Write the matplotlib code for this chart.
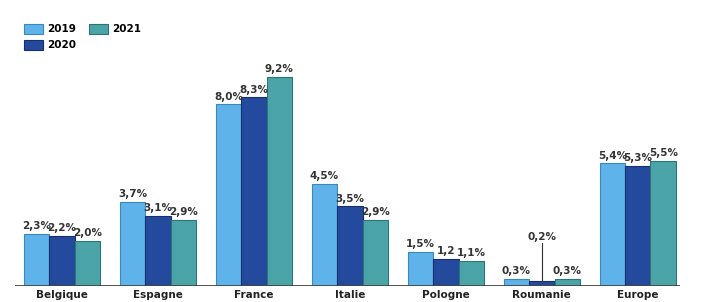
import matplotlib
matplotlib.use("Agg")
import matplotlib.pyplot as plt
import numpy as np

categories = ["Belgique", "Espagne", "France", "Italie", "Pologne", "Roumanie", "Europe"]
years = ["2019", "2020", "2021"]
v2019 = [2.3, 3.7, 8.0, 4.5, 1.5, 0.3, 5.4]
v2020 = [2.2, 3.1, 8.3, 3.5, 1.2, 0.2, 5.3]
v2021 = [2.0, 2.9, 9.2, 2.9, 1.1, 0.3, 5.5]
labels2020 = ["2,2%", "3,1%", "8,3%", "3,5%", "1,2", "0,2%", "5,3%"]

colors = ["#5DB3EA", "#244A9E", "#4BA5A8"]
edges = ["#3C86B8", "#16306E", "#2F7375"]

fig = plt.figure(figsize=(7.03, 3.02), dpi=100)
ax = fig.add_axes([15/703, 16/302, 665/703, 276/302])

x = np.arange(len(categories))
w = 0.265
series = [v2019, v2020, v2021]
for i, (vals, c, e, y) in enumerate(zip(series, colors, edges, years)):
    ax.bar(x + (i - 1) * w, vals, width=w, color=c, edgecolor=e, linewidth=0.8, label=y, zorder=2)

def fmt(v):
    return f"{v:.1f}".replace(".", ",") + "%"

tkw = dict(ha="center", va="bottom", fontsize=7.5, fontweight="bold", color="#333333", zorder=3)
for i, vals in enumerate(series):
    for j, v in enumerate(vals):
        xi = x[j] + (i - 1) * w
        txt = fmt(v) if i != 1 else labels2020[j]
        if i == 1 and categories[j] == "Roumanie":
            ax.plot([xi, xi], [v, 1.9], color="#333333", lw=0.8, zorder=3)
            ax.text(xi, 1.95, txt, **tkw)
        else:
            ax.text(xi, v + 0.12, txt, **tkw)

ax.set_xlim(-0.49, 6.44)
ax.set_ylim(0, 12.15)
ax.axhline(0, color="#444444", lw=2, zorder=4)
for s in ax.spines.values():
    s.set_visible(False)
ax.set_yticks([])
ax.set_xticks(x)
ax.set_xticklabels(categories, fontsize=7.5, fontweight="bold", color="#222222")
ax.tick_params(axis="x", length=0, pad=3)

leg = ax.legend(loc="upper left", bbox_to_anchor=(0.0, 0.985), ncol=2, frameon=False,
                prop=dict(size=7.5, weight="bold"), handlelength=1.8, handleheight=1.1,
                columnspacing=1.2, labelspacing=0.55, handletextpad=0.4)

fig.savefig("out.png", dpi=100)
